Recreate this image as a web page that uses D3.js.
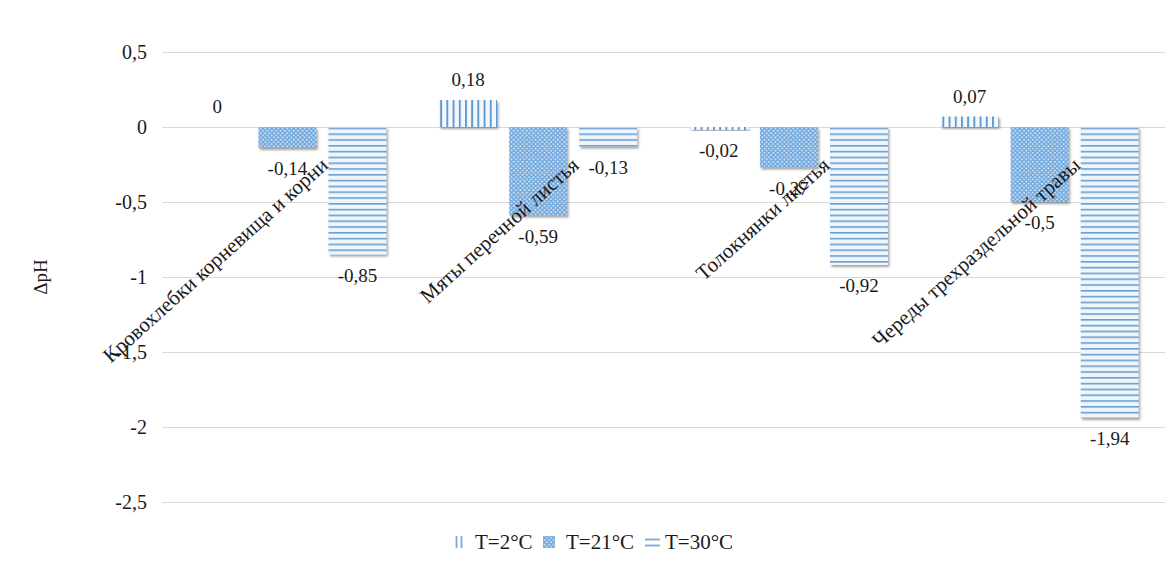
<!DOCTYPE html>
<html><head><meta charset="utf-8">
<script src="https://cdn.jsdelivr.net/npm/d3@7"></script>
<style>
html,body{margin:0;padding:0;background:#fff;}
</style></head>
<body><svg id="chart" width="1176" height="562" font-family="'Liberation Serif','Times New Roman',serif"></svg>
<script>
const categories = ["Кровохлебки корневища и корни", "Мяты перечной листья", "Толокнянки листья", "Череды трехраздельной травы"];
const seriesNames = ["T=2°C", "T=21°C", "T=30°C"];
const valuesT2 = [0, 0.18, -0.02, 0.07];
const valuesT21 = [-0.14, -0.59, -0.27, -0.5];
const valuesT30 = [-0.85, -0.13, -0.92, -1.94];
const yTicks = [0.5, 0, -0.5, -1, -1.5, -2, -2.5];
const yTitle = "ΔpH";

const seriesValues = [valuesT2, valuesT21, valuesT30];
const fmt = v => String(v).replace('.', ',');
const INK = "#1a1a1a";

const svg = d3.select("#chart");
const defs = svg.append("defs");

const pV = defs.append("pattern").attr("id","pat0").attr("patternUnits","userSpaceOnUse").attr("width",6.2).attr("height",6.2);
pV.append("rect").attr("width",6.2).attr("height",6.2).attr("fill","#f3f8fd");
pV.append("rect").attr("x",0).attr("width",1.9).attr("height",6.2).attr("fill","#5f98cf");
const pC = defs.append("pattern").attr("id","pat1").attr("patternUnits","userSpaceOnUse").attr("width",4.4).attr("height",4.4);
pC.append("rect").attr("width",4.4).attr("height",4.4).attr("fill","#72a8dc");
pC.append("circle").attr("cx",1.1).attr("cy",1.1).attr("r",0.95).attr("fill","#e2effb");
pC.append("circle").attr("cx",3.3).attr("cy",3.3).attr("r",0.95).attr("fill","#e2effb");
const pH = defs.append("pattern").attr("id","pat2").attr("patternUnits","userSpaceOnUse").attr("width",6).attr("height",5.8);
pH.append("rect").attr("width",6).attr("height",5.8).attr("fill","#eef5fc");
pH.append("rect").attr("y",0).attr("width",6).attr("height",1.6).attr("fill","#6a9fd2");

const flt = defs.append("filter").attr("id","shadow").attr("x","-10%").attr("y","-10%").attr("width","130%").attr("height","130%");
flt.append("feDropShadow").attr("dx",1.5).attr("dy",2).attr("stdDeviation",1.2).attr("flood-color","#555").attr("flood-opacity",0.55);

const x0 = d3.scaleBand().domain(categories).range([162, 1165]).paddingInner(0).paddingOuter(0);
const x1 = d3.scaleBand().domain(seriesNames).range([0, x0.bandwidth()]).paddingInner(0.174).paddingOuter(0.377);
const y = d3.scaleLinear().domain([-2.5, 0.5]).range([502, 52]);

svg.append("g").selectAll("line").data(yTicks).join("line")
  .attr("x1", 162).attr("x2", 1165)
  .attr("y1", d => Math.round(y(d)) + 0.5).attr("y2", d => Math.round(y(d)) + 0.5)
  .attr("stroke", "#d9d9d9").attr("stroke-width", 1);

const yAxis = d3.axisLeft(y).tickValues(yTicks).tickFormat(fmt).tickSize(0).tickPadding(0);
const ga = svg.append("g").attr("transform","translate(147,0)").call(yAxis);
ga.attr("font-family", null).attr("font-size", 20);
ga.select(".domain").remove();
ga.selectAll("text").attr("fill", INK);

svg.append("text").attr("transform","translate(47,277) rotate(-90)").attr("text-anchor","middle")
  .attr("font-size",19).attr("fill",INK).text(yTitle);

const data = [];
categories.forEach((c, ci) => seriesNames.forEach((s, si) => data.push({c, s, si, v: seriesValues[si][ci]})));

svg.append("g").selectAll("rect").data(data.filter(d => d.v !== 0)).join("rect")
  .attr("x", d => x0(d.c) + x1(d.s))
  .attr("width", x1.bandwidth())
  .attr("y", d => Math.min(y(d.v), y(0)))
  .attr("height", d => Math.abs(y(d.v) - y(0)))
  .attr("fill", d => `url(#pat${d.si})`)
  .attr("filter","url(#shadow)");

svg.append("g").selectAll("text").data(categories).join("text")
  .attr("text-anchor","end")
  .attr("font-size",21).attr("fill",INK)
  .attr("transform", d => `translate(${x0(d) + x0.bandwidth()/2 + 42},167) rotate(-42)`)
  .text(d => d);

svg.append("g").selectAll("text").data(data).join("text")
  .attr("text-anchor","middle").attr("font-size",19).attr("fill",INK)
  .attr("x", d => x0(d.c) + x1(d.s) + x1.bandwidth()/2)
  .attr("y", d => d.v >= 0 ? y(d.v) - 14 : y(d.v) + 27)
  .text(d => fmt(d.v));

// legend
const legend = svg.append("g");
const tx = [475, 566, 665];
// vertical-line swatch
[456.5, 461.5].forEach(xx => legend.append("line").attr("x1",xx).attr("x2",xx).attr("y1",536).attr("y2",548)
  .attr("stroke","#7aaad8").attr("stroke-width",1.8));
legend.append("rect").attr("x", 543).attr("y", 536).attr("width", 12).attr("height", 12).attr("fill","url(#pat1)");
[539.5, 545.5].forEach(yy => legend.append("line").attr("x1",645).attr("x2",660).attr("y1",yy).attr("y2",yy)
  .attr("stroke","#7aaad8").attr("stroke-width",1.8));
legend.selectAll("text.lg").data(seriesNames).join("text").attr("class","lg")
  .attr("fill",INK)
  .attr("x", (d,i) => tx[i]).attr("y", 549).attr("font-size",21).text(d => d);
</script></body></html>
